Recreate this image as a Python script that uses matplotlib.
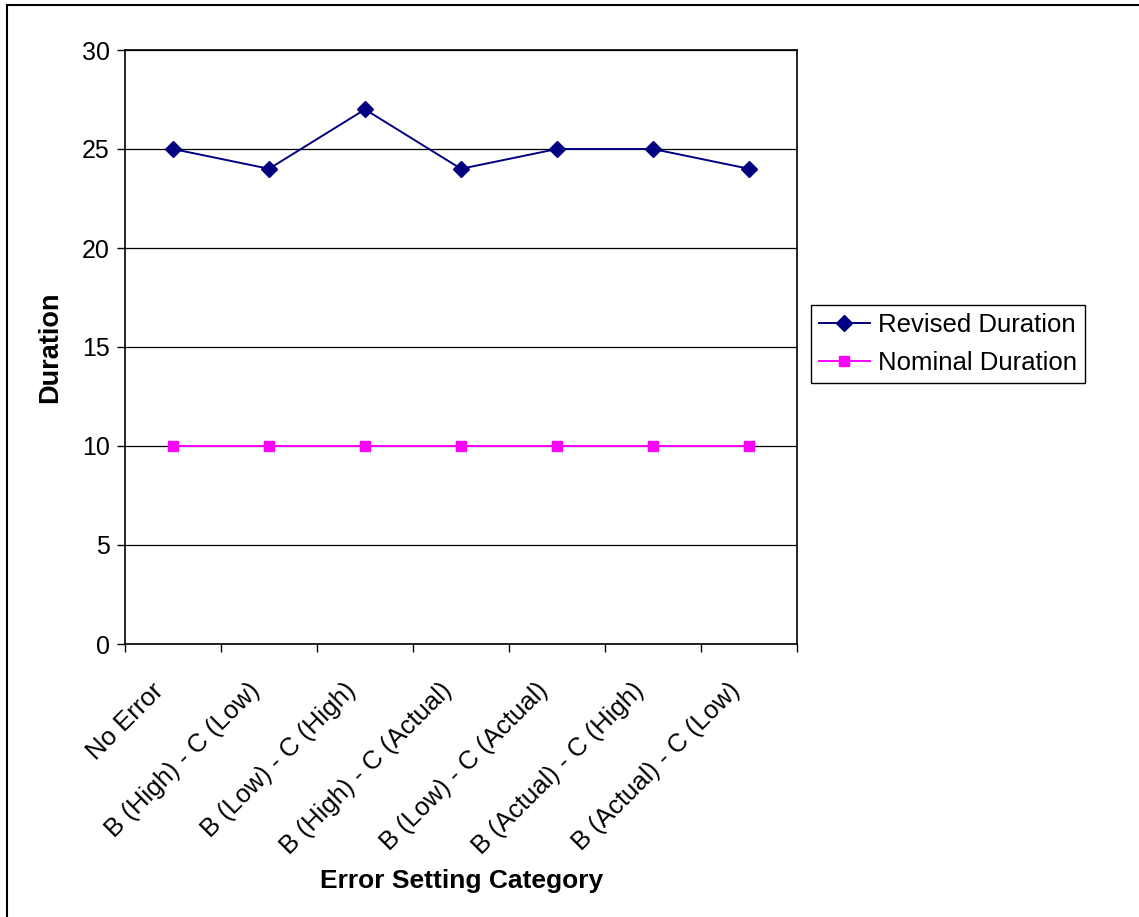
import matplotlib
matplotlib.use("Agg")
import matplotlib.pyplot as plt
from matplotlib.patches import Rectangle
from matplotlib.transforms import ScaledTranslation

categories = [
    "No Error",
    "B (High) - C (Low)",
    "B (Low) - C (High)",
    "B (High) - C (Actual)",
    "B (Low) - C (Actual)",
    "B (Actual) - C (High)",
    "B (Actual) - C (Low)",
]
revised_duration = [25, 24, 27, 24, 25, 25, 24]
nominal_duration = [10, 10, 10, 10, 10, 10, 10]
y_ticks = [0, 5, 10, 15, 20, 25, 30]

plt.rcParams["font.family"] = ["Liberation Sans", "DejaVu Sans"]

W, H = 1139, 917
fig = plt.figure(figsize=(W / 100, H / 100), dpi=100)
fig.patch.set_facecolor("white")

# chart-area frame
fig.patches.append(Rectangle((7 / W, -0.05), 1.2, 1 - 5 / H + 0.05,
                             transform=fig.transFigure, fill=False,
                             edgecolor="black", linewidth=1.5, zorder=0))

left, right, top, bottom = 125, 797, 50, 644
ax = fig.add_axes([left / W, 1 - bottom / H, (right - left) / W, (bottom - top) / H])

x = list(range(len(categories)))
ax.plot(x, revised_duration, color="#000080", linewidth=1.4, marker="D",
        markersize=8.5, markerfacecolor="#000080", markeredgecolor="#000080",
        label="Revised Duration", zorder=3, clip_on=False)
ax.plot(x, nominal_duration, color="#FF00FF", linewidth=1.4, marker="s",
        markersize=7, markerfacecolor="#FF00FF", markeredgecolor="#FF00FF",
        label="Nominal Duration", zorder=3, clip_on=False)

ax.set_xlim(-0.5, len(categories) - 0.5)
ax.set_ylim(0, 30)
ax.set_yticks(y_ticks)
ax.set_yticklabels([str(v) for v in y_ticks], fontsize=18)
ax.yaxis.grid(True, color="black", linewidth=0.9)
ax.set_axisbelow(True)

# category boundaries carry the tick marks, centres carry the labels
ax.set_xticks([i - 0.5 for i in range(len(categories) + 1)])
ax.set_xticklabels([])
ax.set_xticks(x, minor=True)
ax.set_xticklabels(categories, minor=True, rotation=45, ha="right",
                   va="center", rotation_mode="anchor", fontsize=18.5)
ax.tick_params(axis="x", which="minor", length=0, pad=31)
ax.tick_params(axis="x", which="major", length=6, width=1, direction="out")
ax.tick_params(axis="y", length=6, width=1, direction="out", pad=5)
shift = ScaledTranslation(-13 / 100, 0, fig.dpi_scale_trans)
for lab in ax.get_xticklabels(minor=True):
    lab.set_transform(lab.get_transform() + shift)

for s in ax.spines.values():
    s.set_color("black")
    s.set_linewidth(1.2)

ax.set_ylabel("Duration", fontsize=19.5, fontweight="bold")
ax.yaxis.set_label_coords(-(left - 63) / (right - left), 0.5)
ax.set_xlabel("Error Setting Category", fontsize=19, fontweight="bold")
ax.xaxis.set_label_coords((462 - left) / (right - left), -(869 - bottom) / (bottom - top))

leg = ax.legend(loc="center left", bbox_to_anchor=((811 - left) / (right - left), (bottom - 344) / (bottom - top)),
                fontsize=18.5, frameon=True, fancybox=False, framealpha=1,
                edgecolor="black", handlelength=2.0, handletextpad=0.3,
                borderpad=0.3, labelspacing=0.55, borderaxespad=0)
leg.get_frame().set_linewidth(1.0)

fig.savefig("out.png", dpi=100)
